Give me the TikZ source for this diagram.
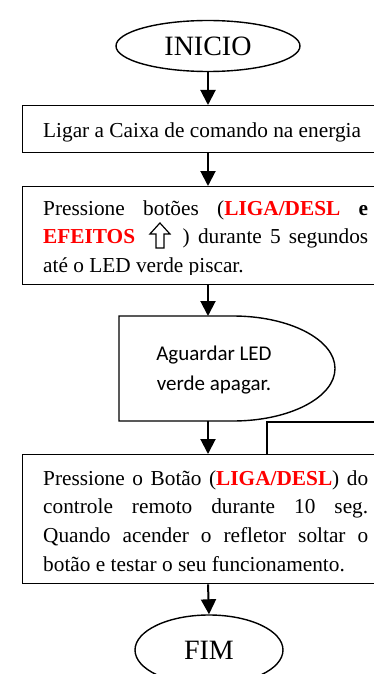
\documentclass[tikz,border=0pt]{standalone}
\usepackage{fontspec}
\setmainfont{Liberation Serif}
\newfontfamily\calibrifont{Carlito}
\usetikzlibrary{arrows.meta,shapes.geometric}
\newcommand{\upwhitearrow}{\tikz[x=1pt,y=1pt,baseline=0pt,line width=1.2pt,line join=miter]{\draw (6,-4) -- (6,10) -- (0,10) -- (10,21) -- (20,10) -- (14,10) -- (14,-4) -- cycle;}}
\begin{document}
\begin{tikzpicture}[x=1pt,y=-1pt,
  box/.style={draw,line width=1.4pt,rectangle,anchor=north west,inner sep=0pt,minimum width=367pt},
  txt/.style={anchor=north west,inner sep=0pt,text width=325pt,align=justify,font=\fontsize{21.3}{28.6}\selectfont},
  term/.style={draw,ellipse,line width=1.4pt,inner sep=0pt,font=\fontsize{28}{30}\selectfont},
  arr/.style={line width=2pt,-{Triangle[length=15pt,width=15pt]}},
  link/.style={line width=1.4pt}]
\useasboundingbox (0,0) rectangle (374,674);
\clip (0,0) rectangle (374,674);
% terminals
\node[term,minimum width=184pt,minimum height=51pt] (ini) at (208,46) {INICIO};
\node[term,minimum width=148pt,minimum height=70pt] (fim) at (209,650) {FIM};
% box 1
\node[box,minimum height=47pt] (b1) at (22,105) {};
\node[anchor=base west,inner sep=0pt,font=\fontsize{21.3}{28.6}\selectfont] (t1) at (43,137) {Ligar a Caixa de comando na energia};
% box 2
\node[box,minimum height=98pt] (b2) at (22,186) {};
\begin{scope}
\clip (22,186) rectangle (389,274.5);
\node[txt] (t2) at (43,200.4) {\noindent Pressione botões (\textcolor{red}{\textbf{LIGA/DESL}} \textbf{e}\linebreak \textcolor{red}{\textbf{EFEITOS}}\hspace{6pt} \upwhitearrow\hspace{4pt} ) durante 5 segundos\linebreak até o LED verde piscar.};
\end{scope}
% delay
\coordinate (dtop) at (208,316);
\coordinate (dbot) at (208,421);
\draw[link] (119,316) -- (233,316) arc[start angle=-90,end angle=90,x radius=102,y radius=52.5] -- (119,421) -- cycle;
\node[anchor=north,inner sep=0pt,align=center,font=\calibrifont\fontsize{21}{29.5}\selectfont] (wait) at (214,346) {Aguardar LED\\verde apagar.};
% box 3
\node[box,minimum height=129pt] (b3) at (22,454) {};
\node[txt] (t3) at (43,470.4) {\noindent Pressione o Botão (\textcolor{red}{\textbf{LIGA/DESL}}) do\linebreak controle remoto durante 10 seg.\linebreak Quando acender o refletor soltar o\linebreak botão e testar o seu funcionamento.};
% feedback line
\coordinate (fbtop) at (267,422);
\coordinate (fbend) at (380,422);
\draw[link] (b3.north -| fbtop) -- (fbtop) -- (fbend);
% arrows
\draw[arr] (ini.south) -- (b1.north -| ini.south);
\draw[arr] (b1.south -| ini.south) -- (b2.north -| ini.south);
\draw[arr] (b2.south -| ini.south) -- (dtop);
\draw[arr] (dbot) -- (b3.north -| dbot);
\draw[arr] (b3.south -| dbot) -- (fim.north);
\end{tikzpicture}
\end{document}
